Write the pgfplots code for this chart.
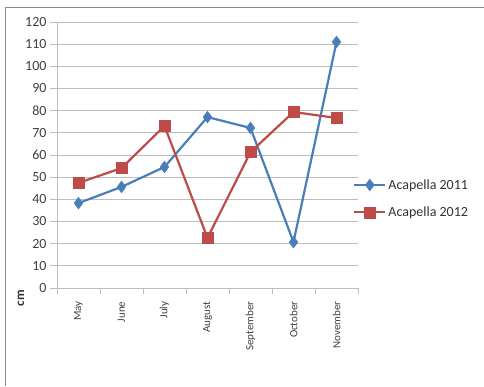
\documentclass[border=0pt]{standalone}
\usepackage{pgfplots}
\pgfplotsset{compat=1.18}
\usepackage{fontspec}
\setmainfont{Carlito}

\definecolor{serblue}{HTML}{4A7EBB}
\definecolor{serred}{HTML}{BE4B48}
\definecolor{gridgray}{HTML}{BDBDBD}
\definecolor{framegray}{HTML}{8C8C8C}

\begin{document}
\begin{tikzpicture}
\path[use as bounding box] (0pt,0pt) rectangle (484pt,386pt);
% chart frame (top and left edges)
\draw[framegray,line width=1.2pt] (5.5pt,0pt) -- (5.5pt,378.5pt) -- (484pt,378.5pt);

\begin{axis}[
  at={(57pt,98pt)}, anchor=south west,
  scale only axis, width=301pt, height=266pt,
  xmin=-0.5, xmax=6.5, ymin=0, ymax=120,
  axis x line*=bottom, axis y line*=left,
  axis line style={gridgray, line width=0.8pt, -},
  ytick={0,10,...,120},
  ymajorgrids, grid style={gridgray, line width=0.9pt},
  major y tick style={gridgray, line width=0.8pt},
  tick align=outside,
  major tick length=7pt,
  xtick={0,...,6},
  xticklabels={May,June,July,August,September,October,November},
  major x tick style={draw=none},
  minor xtick={-0.5,0.5,...,6.5},
  minor x tick style={gridgray, line width=0.8pt},
  minor tick length=6pt,
  x tick label style={rotate=90, anchor=east, font=\fontsize{11}{12}\selectfont, text=black!75, xshift=-3pt},
  y tick label style={font=\fontsize{14}{15}\selectfont, text=black!75},
  /pgf/number format/assume math mode=true,
  clip=false,
  legend style={at={(1,0.336)}, anchor=west, xshift=-5pt, draw=none, fill=none,
    font=\fontsize{14}{15}\selectfont, text=black!80, row sep=12pt,
    inner sep=0pt, /tikz/every even column/.append style={column sep=2pt}},
  legend cell align=left,
  legend image code/.code={%
    \draw[mark repeat=2,mark phase=2] plot coordinates {(0pt,0pt)(15.5pt,0pt)(31pt,0pt)};},
]
\addplot[serblue, line width=2.2pt, mark=diamond*, mark size=6pt, mark options={solid, line width=0.3pt}]
  coordinates {(0,38.3) (1,45.6) (2,54.6) (3,77.1) (4,72.2) (5,20.7) (6,111)};
\addlegendentry{Acapella 2011}
\addplot[serred, line width=2.2pt, mark=square*, mark size=5.5pt, mark options={solid, line width=0.3pt}]
  coordinates {(0,47.4) (1,54.1) (2,73.1) (3,22.6) (4,61.3) (5,79.4) (6,76.7)};
\addlegendentry{Acapella 2012}
\end{axis}

\node[rotate=90, font=\bfseries\fontsize{13}{14}\selectfont, text=black!80] at (21pt,88pt) {cm};
\end{tikzpicture}
\end{document}
